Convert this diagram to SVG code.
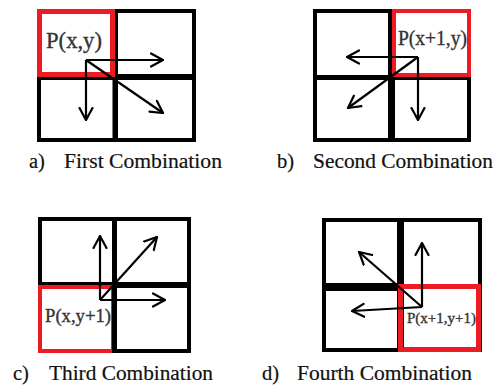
<svg xmlns="http://www.w3.org/2000/svg" width="503" height="385" viewBox="0 0 503 385">
<defs>
<marker id="ah" viewBox="0 0 14 16" refX="13" refY="8" markerWidth="14" markerHeight="16" orient="auto" markerUnits="userSpaceOnUse">
<path d="M1,1.5 L13,8 L1,14.5" fill="none" stroke="#000" stroke-width="2.2" stroke-linecap="round"/>
</marker>
</defs>
<style>
.frame{fill:none;stroke:#000;stroke-width:4}
.bar{fill:#000}
.red{fill:none;stroke:#ed1c24}
.lbl{fill:#333;stroke:#333;stroke-width:0.35}
.cap{font-size:20.5px;fill:#111;stroke:#111;stroke-width:0.2}
.arr{stroke:#000;stroke-width:2.2;fill:none;marker-end:url(#ah)}
</style>
<rect width="503" height="385" fill="#fff"/>

<g font-family="Liberation Serif, DejaVu Serif, serif">
<g id="panel-a">
<rect class="frame" x="39" y="11" width="155" height="129"/>
<rect class="bar" x="112.5" y="9" width="5.5" height="133"/>
<rect class="bar" x="37" y="74" width="159" height="6"/>
<rect class="red" x="39.5" y="11.5" width="73" height="63" stroke-width="5"/>
<text class="lbl" x="46" y="48" font-size="24" textLength="56" lengthAdjust="spacingAndGlyphs">P(x,y)</text>
</g>

<g id="panel-b">
<rect class="frame" x="315" y="11" width="154" height="129"/>
<rect class="bar" x="388" y="9" width="7" height="133"/>
<rect class="bar" x="313" y="75" width="158" height="5"/>
<rect class="red" x="394" y="11" width="75" height="64" stroke-width="4"/>
<text class="lbl" x="398" y="45" font-size="20" textLength="69" lengthAdjust="spacingAndGlyphs">P(x+1,y)</text>
</g>

<g id="panel-c">
<rect class="frame" x="40" y="219" width="149" height="132"/>
<rect class="bar" x="38" y="282" width="153" height="6"/>
<rect class="red" x="40" y="287" width="73" height="64" stroke-width="4"/>
<rect class="bar" x="112" y="217" width="5" height="136"/>
<text class="lbl" x="45" y="322" font-size="19" textLength="66" lengthAdjust="spacingAndGlyphs">P(x,y+1)</text>
</g>

<g id="panel-d">
<rect class="frame" x="324" y="220" width="156" height="130"/>
<rect class="bar" x="397" y="218" width="7" height="134"/>
<rect class="bar" x="322" y="283" width="78" height="8"/>
<rect class="red" x="400.5" y="286.5" width="78" height="63" stroke-width="5"/>
<text class="lbl" x="407" y="323" font-size="15" textLength="69" lengthAdjust="spacingAndGlyphs">P(x+1,y+1)</text>
</g>

<g id="connectors">
<path class="arr" d="M86,60 H163"/>
<path class="arr" d="M86,60 V120"/>
<path class="arr" d="M86,60 L163,113"/>
<path class="arr" d="M418,57 H347"/>
<path class="arr" d="M418,57 V120"/>
<path class="arr" d="M418,57 L348,108"/>
<path class="arr" d="M100,300 V236"/>
<path class="arr" d="M100,300 H165"/>
<path class="arr" d="M100,300 L157,237"/>
<path class="arr" d="M422,307 V243"/>
<path class="arr" d="M422,307 L352,311"/>
<path class="arr" d="M422,307 L359,252"/>
</g>

<g id="captions">
<text class="cap" x="29" y="168">a)</text>
<text class="cap" x="64" y="168" textLength="158" lengthAdjust="spacingAndGlyphs">First Combination</text>
<text class="cap" x="277" y="168">b)</text>
<text class="cap" x="313" y="168" textLength="180" lengthAdjust="spacingAndGlyphs">Second Combination</text>
<text class="cap" x="13" y="380">c)</text>
<text class="cap" x="49" y="380" textLength="164" lengthAdjust="spacingAndGlyphs">Third Combination</text>
<text class="cap" x="262" y="380">d)</text>
<text class="cap" x="297" y="380" textLength="175" lengthAdjust="spacingAndGlyphs">Fourth Combination</text>
</g>
</g>
</svg>
